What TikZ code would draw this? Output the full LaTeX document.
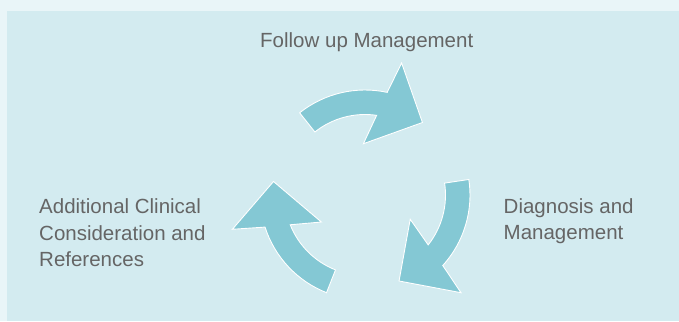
\documentclass[tikz,border=0pt]{standalone}
\usepackage{fontspec}
\setmainfont{Liberation Sans}
\definecolor{pagebg}{HTML}{E9F5F8}
\definecolor{panelbg}{HTML}{D3EBF0}
\definecolor{arrowfill}{HTML}{84C8D4}
\definecolor{labelgray}{HTML}{656565}
\begin{document}
\begin{tikzpicture}[x=1pt,y=1pt,
  cyclelabel/.style={inner sep=0pt,align=left,text=labelgray,font=\fontsize{20.5}{26.8}\selectfont},
  cyclearrow/.style={fill=arrowfill,draw=white,line width=0.9pt,line join=miter}]

       \useasboundingbox (0,0) rectangle (679,321);
       \fill[pagebg] (0,0) rectangle (679,321);
       \fill[panelbg] (7,0) rectangle (679,310);

       \foreach \turn in {0,-120,-240}
         \path[cyclearrow,shift={(365,126)},rotate=\turn]
           (128.5:105) arc[start angle=128.5,end angle=77.8,radius=105pt]
           -- (74.5:137) -- (51.6:92.5) -- (91.8:51.3) -- (81.7:80.5)
           arc[start angle=81.7,end angle=128.5,radius=80.5pt] -- cycle;

       \node[cyclelabel,anchor=base west] (followup) at (260,273) {Follow up Management};
       \node[cyclelabel,anchor=base west] (diagnosis) at (503.5,81) {Diagnosis and\\Management};
       \node[cyclelabel,anchor=base west] (additional) at (39,54) {Additional Clinical\\Consideration and\\References};
     \end{tikzpicture}
\end{document}
